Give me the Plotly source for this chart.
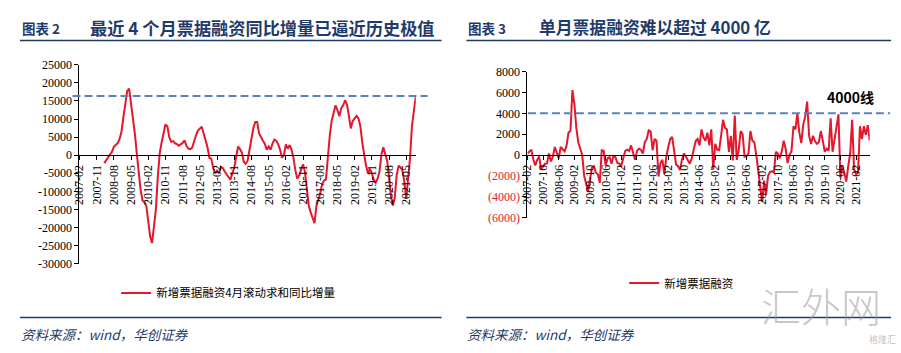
import plotly.graph_objects as go

W, H = 901, 353


def months(y, m, n):
    out = []
    for _ in range(n):
        out.append(f"{y}-{m:02d}")
        m += 1
        if m > 12:
            m = 1
            y += 1
    return out


# ---------------- data ----------------
left_categories = months(2007, 2, 177)    # 2007-02 .. 2021-10
right_categories = months(2007, 2, 176)   # 2007-02 .. 2021-09

left_values = [
    None, None, None, None, None, None, None, None, None, None,
    None, None, None, -2200, -1300, -400, 200, 900, 2300, 2800,
    3300, 4500, 6500, 10500, 15000, 17800, 18400, 14500, 11000, 6000,
    500, -5000, -9500, -12500, -13000, -14000, -18000, -22500, -24300, -19000,
    -15000, -6000, 500, 3500, 6000, 8500, 8000, 5000, 3700, 3900,
    3300, 3100, 2600, 3000, 3400, 4100, 2600, 1800, 1700, 2100,
    4000, 5500, 6800, 7400, 7900, 6000, 4000, 2200, -700, -1000,
    -3500, -5000, -4300, -5000, -3200, -3500, -4500, -5300, -6000, -6800,
    -5000, -3500, -500, 2400, 1700, 700, -1800, -2400, -1500, 1500,
    5000, 7500, 9200, 9200, 6000, 4800, 4000, 3200, 1500, 2400,
    1500, 3200, 4300, 4000, 3000, 1500, -700, 0, 3000, 1800,
    2800, 1500, -800, -4200, -6500, -5500, -4000, -2500, -4600, -10000,
    -14000, -15800, -17500, -18800, -14000, -12500, -10500, -8000, -7000, -6700,
    200, 5500, 9500, 12000, 13800, 12500, 10800, 13000, 13800, 15200,
    14000, 10800, 7400, 9500, 10400, 10900, 10200, 8000, 3500, 200,
    -3000, -5100, -3800, -5000, -6800, -7600, -6500, -4600, 200, 2200,
    500, -1500, -6000, -11300, -13900, -11700, -5500, -2900, -3400, -4200,
    -7300, -12000, -6400, -700, 8100, 13000, 16300,
]

right_values = [
    150, 350, 520, -400, -1000, -460, -150, -1380, -1070, -830,
    -800, 150, -610, -150, 770, 310, -310, 770, 520, 350,
    900, 2150, 2300, 6230, 4900, 2600, 1230, 700, 0, -2000,
    -2900, -3500, -2300, -1230, -1070, -1690, -1840, -2670, 460, 400,
    -1010, -310, -210, -830, -90, -210, -770, -830, -1010, -300,
    400, 520, 400, 920, 150, -460, 400, 610, 500, 150,
    1230, 1540, 2360, 2240, 460, 1540, 1380, -2060, -770, -460,
    -1840, -150, 770, 1540, 1750, 460, -920, -1070, -1440, -460,
    150, -150, -500, -830, -310, 700, 1350, 1540, 920, 2460,
    1690, 1380, 2150, 920, 2460, -1380, 1070, 520, 460, 1840,
    3380, 2610, 2460, 310, 1840, -520, 3780, -460, 460, 2300,
    2000, -150, -100, 150, 2300, 1380, 1230, 0, -1690, -3220,
    -4520, -2460, -3840, -2000, -1630, -1540, -1690, 310, 150, -310,
    310, 1380, 610, -770, 0, 400, 2760, 2460, 4000, 2150,
    1140, 2920, 3680, 5130, 1840, 1070, 1840, 1320, 1070, 1230,
    2300, 1380, 310, 610, 400, 3530, 310, 1500, 2610, 3900,
    -2150, -1070, -1690, -2550, -1070, 150, 3380, -1380, -1840, -1690,
    2760, 1540, 2760, 1930, 2860, 1380,
]

left_yticks = [25000, 20000, 15000, 10000, 5000, 0, -5000, -10000,
               -15000, -20000, -25000, -30000]
right_yticks = [8000, 6000, 4000, 2000, 0, -2000, -4000, -6000]
right_ytick_labels = ["8000", "6000", "4000", "2000", "0",
                      "(2000)", "(4000)", "(6000)"]
left_xticks = left_categories[::9]
right_xticks = right_categories[::8]

left_ref_level = 16400
right_ref_level = 4000

left_name = "新增票据融资4月滚动求和同比增量"
right_name = "新增票据融资"

# ---------------- styling ----------------
RED = "#E3172D"
NEG_RED = "#E0202E"
DASH_BLUE = "#5B83BA"
NAVY = "#1F3B6B"
SERIF = "Liberation Serif"
CJK = "Noto Sans CJK SC"


def px_x(x):
    return x / W


def px_y(y):
    return 1 - y / H


L_YDOM = [px_y(267.3), px_y(60.2)]
R_YDOM = [px_y(219.3), px_y(67.3)]
L_YR = [-30000, 25000]
R_YR = [-6000, 8000]


def zero_pos(dom, rng):
    return dom[0] + (0 - rng[0]) / (rng[1] - rng[0]) * (dom[1] - dom[0])


fig = go.Figure()
fig.add_trace(go.Scatter(
    x=left_categories, y=left_values, mode="lines", name=left_name,
    line=dict(color=RED, width=2), xaxis="x", yaxis="y",
    connectgaps=False, legend="legend",
))
fig.add_trace(go.Scatter(
    x=right_categories, y=right_values, mode="lines", name=right_name,
    line=dict(color=RED, width=2), xaxis="x2", yaxis="y2",
    legend="legend2",
))

xcommon = dict(
    type="category", showgrid=False, zeroline=False, showline=True,
    linecolor="black", linewidth=1, ticks="outside", ticklen=4,
    tickcolor="black", tickangle=-90, anchor="free",
    tickfont=dict(family=SERIF, size=12, color="black"),
    tickmode="array",
)
ycommon = dict(
    showgrid=False, zeroline=False, showline=True, linecolor="black",
    linewidth=1, ticks="outside", ticklen=4, tickcolor="black",
    tickfont=dict(family=SERIF, size=12, color="black"),
    tickmode="array",
)

fig.update_layout(
    width=W, height=H, autosize=False,
    margin=dict(l=0, r=0, t=0, b=0, pad=0),
    paper_bgcolor="white", plot_bgcolor="white",
    xaxis=dict(xcommon, domain=[px_x(73), px_x(412)],
               range=[0, len(left_categories) - 1],
               tickvals=left_xticks, ticktext=left_xticks,
               position=zero_pos(L_YDOM, L_YR)),
    yaxis=dict(ycommon, domain=L_YDOM, range=L_YR, anchor="x",
               tickvals=left_yticks,
               ticktext=[str(v) for v in left_yticks]),
    xaxis2=dict(xcommon, domain=[px_x(524.5), px_x(869.5)],
                range=[0, len(right_categories) - 1],
                tickvals=right_xticks, ticktext=right_xticks,
                position=zero_pos(R_YDOM, R_YR)),
    yaxis2=dict(ycommon, domain=R_YDOM, range=R_YR, anchor="x2",
                tickvals=right_yticks,
                ticktext=[t if v >= 0 else f"<span style='color:{NEG_RED}'>{t}</span>"
                          for v, t in zip(right_yticks, right_ytick_labels)]),
    legend=dict(x=px_x(110), y=px_y(297.7), xanchor="left", yanchor="middle",
                bgcolor="rgba(0,0,0,0)", borderwidth=0, itemwidth=30,
                font=dict(family=CJK, size=11.5, color="black")),
    legend2=dict(x=px_x(622), y=px_y(287.5), xanchor="left", yanchor="middle",
                 bgcolor="rgba(0,0,0,0)", borderwidth=0, itemwidth=30,
                 font=dict(family=CJK, size=11.5, color="black")),
    showlegend=True,
)

shapes = []
# header and footer rules
for x0, x1 in [(13, 438), (463, 891)]:
    shapes.append(dict(type="line", xref="paper", yref="paper",
                       x0=px_x(x0), x1=px_x(x1), y0=px_y(35), y1=px_y(35),
                       line=dict(color=NAVY, width=1.5)))
    shapes.append(dict(type="line", xref="paper", yref="paper",
                       x0=px_x(x0), x1=px_x(x1), y0=px_y(323.3), y1=px_y(323.3),
                       line=dict(color=NAVY, width=1.5)))
# reference dashed lines
shapes.append(dict(type="line", xref="paper", yref="y",
                   x0=px_x(66), x1=px_x(424), y0=left_ref_level, y1=left_ref_level,
                   line=dict(color=DASH_BLUE, width=2, dash="8px,4px")))
shapes.append(dict(type="line", xref="paper", yref="y2",
                   x0=px_x(525), x1=px_x(890), y0=right_ref_level, y1=right_ref_level,
                   line=dict(color=DASH_BLUE, width=2, dash="8px,4px")))
fig.update_layout(shapes=shapes)

ann = []


def text(x, y, s, size, color="black", family=CJK, xanchor="left", weight=None, **kw):
    f = dict(family=family, size=size, color=color)
    if weight is not None:
        f["weight"] = weight
    ann.append(dict(x=px_x(x), y=px_y(y), xref="paper", yref="paper",
                    text=s, showarrow=False, xanchor=xanchor, yanchor="middle",
                    font=f, **kw))


# titles
text(13, 21.5, "<b>图表 2</b>", 13.5, NAVY)
text(82, 21, "<b>最近 4 个月票据融资同比增量已逼近历史极值</b>", 17.2, NAVY)
text(463, 21.5, "<b>图表 3</b>", 13.5, NAVY)
text(534, 21, "<b>单月票据融资难以超过 4000 亿</b>", 16.8, NAVY)
# sources
text(12, 340, "<i>资料来源：wind，华创证券</i>", 13.5, NAVY)
text(462, 340, "<i>资料来源：wind，华创证券</i>", 13.5, NAVY)
# 4000 line label
text(850, 94, "<b>4000线</b>", 14, "black", xanchor="center")
# watermark
text(820, 310, "汇外网", 40, "rgba(150,150,150,0.55)", xanchor="center",
     weight=300, borderpad=0)
text(882, 346.5, "格隆汇", 9, "rgba(150,150,150,0.6)", xanchor="center", borderpad=0)

fig.update_layout(annotations=ann)

fig.write_html("out.html")
